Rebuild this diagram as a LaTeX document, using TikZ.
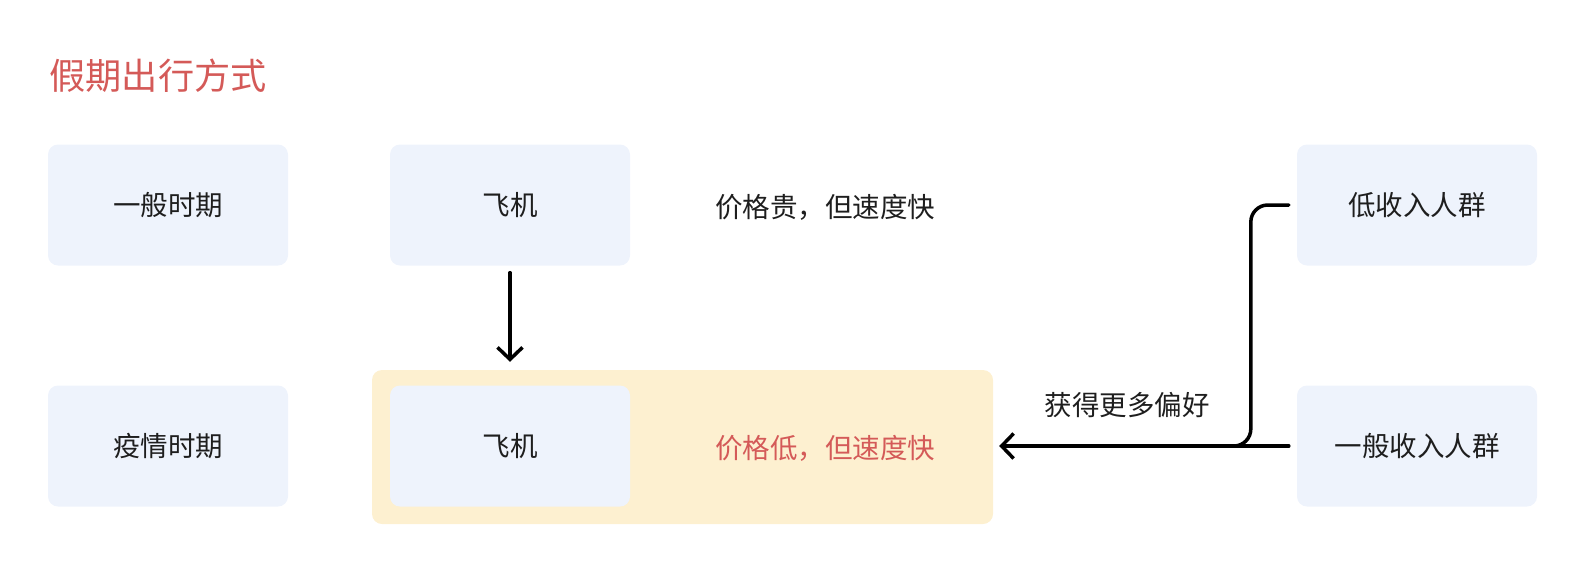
\documentclass[tikz,border=0pt]{standalone}
\usepackage{fontspec}
\setmainfont{Noto Sans CJK SC}
\usetikzlibrary{arrows.meta}
\definecolor{boxblue}{HTML}{EEF3FC}
\definecolor{hlyellow}{HTML}{FDF0D0}
\definecolor{titlered}{HTML}{D45A58}
\definecolor{ink}{HTML}{1E1E1E}
\tikzset{
  card/.style={fill=boxblue,rounded corners=10pt,minimum width=240pt,minimum height=121pt,
    font=\fontsize{27.5}{30}\selectfont,text=ink},
  plain/.style={font=\fontsize{27.5}{30}\selectfont,text=ink},
  link/.style={line width=3.5pt,draw=black,line cap=round,line join=round},
}
\begin{document}
\begin{tikzpicture}[x=1pt,y=-1pt,>={Straight Barb[length=12pt,width=25pt,line width=3.5pt]}]
\useasboundingbox (0,0) rectangle (1586,574);
\node[text=titlered,font=\fontsize{36.2}{38}\selectfont,anchor=west] (title) at (46,76) {假期出行方式};
% highlighted row
\node[fill=hlyellow,rounded corners=10pt,minimum width=621pt,minimum height=154pt] (hl) at (682.5,447) {};
% row 1
\node[card] (normal) at (168,205) {一般时期};
\node[card] (plane1) at (510,205) {飞机};
\node[plain] (note1) at (825,207) {价格贵，但速度快};
\node[card] (low1) at (1417,205) {低收入人群};
% row 2
\node[card] (epidemic) at (168,446) {疫情时期};
\node[card] (plane2) at (510,446) {飞机};
\node[plain,text=titlered] (note2) at (825,448) {价格低，但速度快};
\node[card] (low2) at (1417,446) {一般收入人群};
% connectors
\draw[link,->,shorten <=7pt,shorten >=8pt] (plane1) -- (plane1 |- hl.north);
\draw[link,->,shorten <=8pt,shorten >=6pt] (low2.west) -- (hl.east |- low2.west);
\coordinate (bend) at ([xshift=-46pt]low2.west);
\draw[link,rounded corners=17pt] ([xshift=-8pt]low1.west) -| (bend) -- ([xshift=-40pt]bend);
\node[plain] (pref) at (1127,405) {获得更多偏好};
\end{tikzpicture}
\end{document}
